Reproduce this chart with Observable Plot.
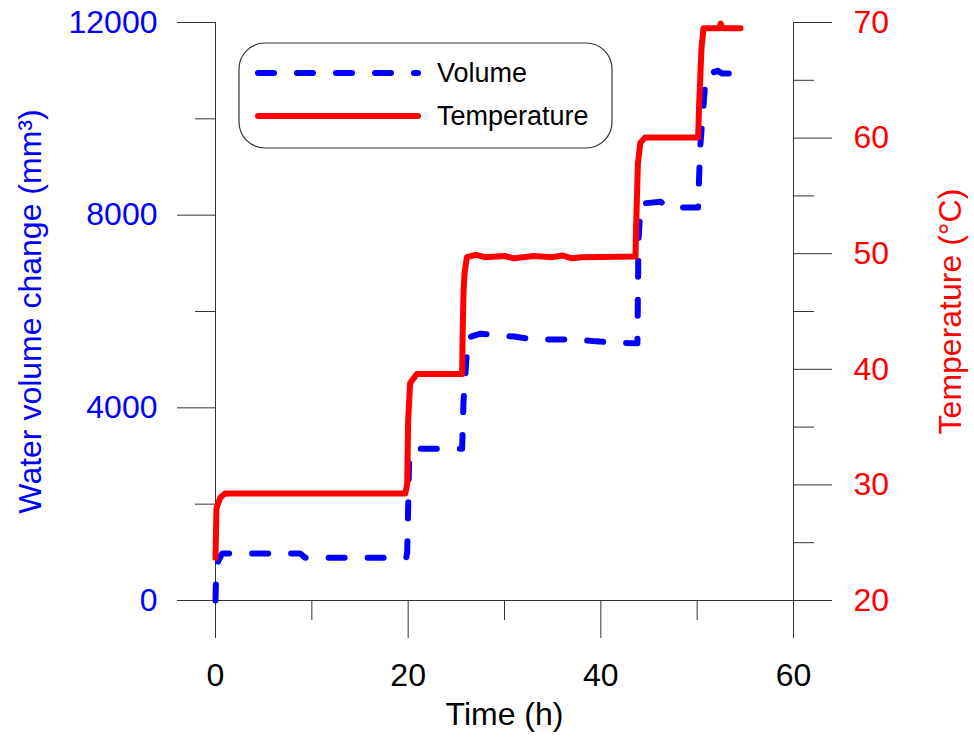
<!DOCTYPE html>
<html>
<head>
<meta charset="utf-8">
<script src="https://cdn.jsdelivr.net/npm/d3@7"></script>
<script src="https://cdn.jsdelivr.net/npm/@observablehq/plot@0.6"></script>
<style>
  html, body { margin: 0; padding: 0; background: #fff; }
</style>
</head>
<body>
<div id="chart"></div>
<script>
// ---- data ----
const timeVolume = [0, 0.05, 0.3, 0.7, 8.8, 9.3, 19.8, 19.9, 20.1, 20.5, 25.6, 25.75, 26.2, 27.5, 29.5, 31, 33, 37.5, 39.5, 43.3, 43.8, 43.9, 44.1, 44.2, 46.2, 47, 50.1, 50.3, 50.6, 50.9, 52.1, 52.6, 54.5];
const volume     = [0, 420, 830, 975, 975, 890, 890, 1000, 2900, 3150, 3150, 4150, 5460, 5540, 5500, 5480, 5420, 5420, 5380, 5340, 5340, 7410, 8160, 8240, 8280, 8160, 8160, 9380, 10130, 10900, 11000, 10940, 10940];

const timeTemp    = [0, 0.1, 0.5, 1.0, 19.7, 19.9, 20.0, 20.2, 20.9, 25.6, 25.65, 25.75, 25.85, 26.1, 27.0, 28, 30, 31, 33, 35, 36, 37, 38, 43.5, 43.6, 43.65, 43.85, 44.1, 44.6, 50.1, 50.2, 50.45, 50.66, 52.3, 52.45, 52.6, 54.5];
const temperature = [23.7, 28.0, 28.9, 29.25, 29.25, 30.1, 35.6, 38.8, 39.6, 39.6, 42.8, 46.8, 48.3, 49.7, 49.9, 49.7, 49.8, 49.6, 49.8, 49.7, 49.85, 49.6, 49.7, 49.75, 49.75, 52.0, 57.8, 59.6, 60.05, 60.05, 62.8, 67.8, 69.5, 69.5, 69.9, 69.5, 69.5];

const xMajor = [0, 20, 40, 60];
const xMinor = [10, 30, 50];
const volMajor = [0, 4000, 8000, 12000];
const volMinor = [2000, 6000, 10000];
const tempMajor = [20, 30, 40, 50, 60, 70];
const tempMinor = [25, 35, 45, 55, 65];

const seriesNames = ["Volume", "Temperature"];
const xTitle = "Time (h)";
const yLeftTitle = "Water volume change (mm³)";
const yRightTitle = "Temperature (°C)";

// ---- mapping of the temperature axis (20–70 °C) onto the volume axis (0–12000) ----
const tMin = 20, tMax = 70, vMin = 0, vMax = 12000;
const toV = T => vMin + (T - tMin) * (vMax - vMin) / (tMax - tMin);
const toT = v => tMin + (v - vMin) * (tMax - tMin) / (vMax - vMin);

const volData = timeVolume.map((t, i) => ({t, v: volume[i]}));
const tempData = timeTemp.map((t, i) => ({t, T: temperature[i]}));

const axisColor = "#333";
const FONT = "'Liberation Sans', Arial, sans-serif";

const plot = Plot.plot({
  width: 974,
  height: 738,
  marginLeft: 215,
  marginRight: 181,
  marginTop: 22,
  marginBottom: 138,
  style: {fontFamily: FONT, fontSize: "32px", background: "#fff", overflow: "visible"},
  x: {domain: [0, 60]},
  y: {domain: [vMin, vMax]},
  marks: [
    Plot.ruleY([0], {stroke: axisColor}),
    Plot.ruleX([0, 60], {stroke: axisColor}),
    // x axis
    Plot.axisX({ticks: xMajor, tickSize: 38, tickPadding: 25, tickFormat: d => String(d), label: null,
      stroke: axisColor, fill: "black", fontSize: 32}),
    Plot.axisX({ticks: xMinor, tickSize: 20, tickFormat: () => "", label: null, stroke: axisColor}),
    // left axis (volume)
    Plot.axisY({anchor: "left", ticks: volMajor, tickSize: 38, tickPadding: 20, tickFormat: d => String(d), label: null,
      stroke: axisColor, fill: "blue", fontSize: 32}),
    Plot.axisY({anchor: "left", ticks: volMinor, tickSize: 20, tickFormat: () => "", label: null, stroke: axisColor}),
    // right axis (temperature)
    Plot.axisY({anchor: "right", ticks: tempMajor.map(toV), tickSize: 38, tickPadding: 22,
      tickFormat: v => String(Math.round(toT(v))), label: null, stroke: axisColor, fill: "red", fontSize: 32}),
    Plot.axisY({anchor: "right", ticks: tempMinor.map(toV), tickSize: 20, tickFormat: () => "", label: null, stroke: axisColor}),
    // series
    Plot.line(volData, {x: "t", y: "v", stroke: "blue", strokeWidth: 6, strokeDasharray: "16,23",
      strokeLinecap: "round", strokeLinejoin: "round"}),
    Plot.line(tempData, {x: "t", y: d => toV(d.T), stroke: "red", strokeWidth: 6,
      strokeLinecap: "round", strokeLinejoin: "round"}),
    // axis titles
    Plot.text([xTitle], {frameAnchor: "bottom", dy: 114, lineAnchor: "middle", textAnchor: "middle", text: d => d, fill: "black", fontSize: 32}),
    Plot.text([yLeftTitle], {frameAnchor: "left", dx: -185, rotate: -90, lineAnchor: "middle", textAnchor: "middle", text: d => d, fill: "blue", fontSize: 32}),
    Plot.text([yRightTitle], {frameAnchor: "right", dx: 157, rotate: -90, lineAnchor: "middle", textAnchor: "middle", text: d => d, fill: "red", fontSize: 32})
  ]
});

document.getElementById("chart").appendChild(plot);

// ---- legend box (drawn inside the SVG) ----
const svg = d3.select(plot);
const lg = svg.append("g").attr("font-family", FONT).attr("font-size", 27).attr("text-anchor", "start");
lg.append("rect").attr("x", 239).attr("y", 43).attr("width", 373).attr("height", 105)
  .attr("rx", 26).attr("ry", 26).attr("fill", "#fff").attr("stroke", axisColor).attr("stroke-width", 1.2);
const legendItems = [
  {name: seriesNames[0], color: "blue", dash: "16,23", y: 73},
  {name: seriesNames[1], color: "red", dash: null, y: 116}
];
legendItems.forEach(it => {
  const l = lg.append("line").attr("x1", 258).attr("x2", 418).attr("y1", it.y).attr("y2", it.y)
    .attr("stroke", it.color).attr("stroke-width", 6).attr("stroke-linecap", "round");
  if (it.dash) l.attr("stroke-dasharray", it.dash);
  lg.append("text").attr("x", 437).attr("y", it.y).attr("dy", "0.35em")
    .attr("text-anchor", "start").attr("font-size", 27).attr("fill", "black").text(it.name);
});
</script>
</body>
</html>
